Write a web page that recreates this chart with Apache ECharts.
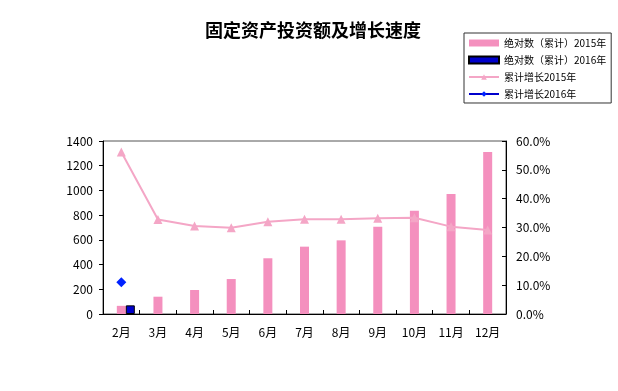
<!DOCTYPE html>
<html><head><meta charset="utf-8">
<script src="https://cdn.jsdelivr.net/npm/echarts@6/dist/echarts.min.js"></script>
<style>html,body{margin:0;padding:0;background:#fff}#c{width:618px;height:391px}</style>
</head><body><div id="c"></div>
<script>
const categories = ['2月','3月','4月','5月','6月','7月','8月','9月','10月','11月','12月'];
const abs2015 = [66, 140, 194, 283, 451, 545, 596, 706, 836, 971, 1311];
const abs2016 = [70, null, null, null, null, null, null, null, null, null, null];
const growth2015 = [56.2, 32.8, 30.5, 29.9, 32.0, 32.9, 32.9, 33.2, 33.4, 30.3, 29.1];
const growth2016 = [11.0, null, null, null, null, null, null, null, null, null, null];
const leftTicks = [0, 1400, 200];
const rightTicks = [0, 60, 10];

const font = '"Noto Sans CJK SC", "Liberation Sans", sans-serif';
const chart = echarts.init(document.getElementById('c'));
chart.setOption({
  animation: false,
  backgroundColor: '#fff',
  title: {
    text: '固定资产投资额及增长速度', left: 308, top: 16, textAlign: 'center',
    textStyle: { fontFamily: font, fontSize: 18, fontWeight: 'bold', color: '#000' }
  },
  legend: {
    orient: 'vertical', left: 464, top: 33, itemGap: 7,
    itemWidth: 30, itemHeight: 7,
    borderColor: '#333', borderWidth: 1, padding: [5, 5, 4, 4],
    textStyle: { fontFamily: font, fontSize: 10, color: '#000' },
    data: [
      { name: '绝对数（累计）2015年', icon: 'rect' },
      { name: '绝对数（累计）2016年', icon: 'rect' },
      { name: '累计增长2015年' },
      { name: '累计增长2016年' }
    ]
  },
  grid: { left: 103, right: 112, top: 141, bottom: 77, show: true, borderColor: '#555', borderWidth: 1 },
  xAxis: {
    type: 'category', data: categories, boundaryGap: true,
    axisLine: { lineStyle: { color: '#000' } },
    axisTick: { show: true, inside: true, length: 4, lineStyle: { color: '#000' } },
    axisLabel: { fontFamily: font, fontSize: 12, color: '#000', margin: 12 }
  },
  yAxis: [
    {
      type: 'value', min: leftTicks[0], max: leftTicks[1], interval: leftTicks[2],
      axisLine: { show: true, lineStyle: { color: '#000' } },
      axisTick: { show: true, length: 4, lineStyle: { color: '#000' } },
      splitLine: { show: false },
      axisLabel: { fontFamily: font, fontSize: 12, color: '#000', margin: 10,
        formatter: v => String(v) }
    },
    {
      type: 'value', min: rightTicks[0], max: rightTicks[1], interval: rightTicks[2],
      axisLine: { show: true, lineStyle: { color: '#000' } },
      axisTick: { show: true, inside: true, length: 4, lineStyle: { color: '#000' } },
      splitLine: { show: false },
      axisLabel: { fontFamily: font, fontSize: 12, color: '#000', margin: 10,
        formatter: v => v.toFixed(1) + '%' }
    }
  ],
  series: [
    { name: 'spacer', type: 'bar', data: [], barWidth: 9, barGap: '0%' },
    { name: '绝对数（累计）2015年', type: 'bar', data: abs2015, barWidth: 9, barGap: '0%',
      itemStyle: { color: '#F490BE' } },
    { name: '绝对数（累计）2016年', type: 'bar', data: abs2016, barWidth: 9, barGap: '0%',
      itemStyle: { color: '#0000CC', borderColor: '#000', borderWidth: 1 } },
    { name: '累计增长2015年', type: 'line', yAxisIndex: 1, data: growth2015,
      symbol: 'triangle', symbolSize: 9, z: 5,
      lineStyle: { color: '#F4A6C6', width: 2 },
      itemStyle: { color: '#F4A6C6' } },
    { name: '累计增长2016年', type: 'line', yAxisIndex: 1, data: growth2016,
      symbol: 'diamond', symbolSize: 10, z: 6,
      lineStyle: { color: '#0000CC', width: 2 },
      itemStyle: { color: '#0022FF' } }
  ]
});
</script></body></html>
